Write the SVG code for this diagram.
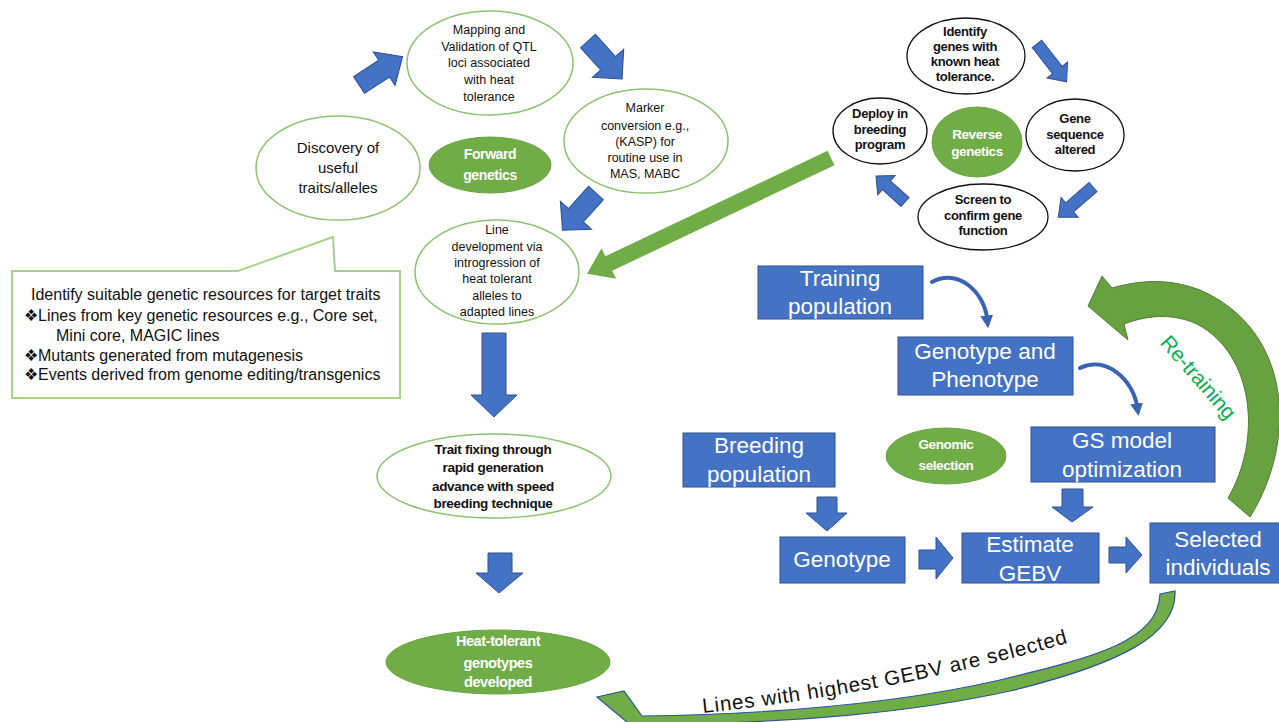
<svg xmlns="http://www.w3.org/2000/svg" width="1279" height="722" viewBox="0 0 1279 722">
<defs>
<style>
.fe{fill:#fff;stroke:#8dc26f;stroke-width:1.5}
.re{fill:#fff;stroke:#111;stroke-width:1.3}
.gf{fill:#70ad47;stroke:#6aa443;stroke-width:1}
.box{fill:#4472c4;stroke:#2f528f;stroke-width:1}
.ba{fill:#4472c4;stroke:#2f528f;stroke-width:1}
.t{font-family:"Liberation Sans",Arial,sans-serif;fill:#111;text-anchor:middle}
.s{font-size:12.5px}
.b{font-weight:bold;font-size:13px;letter-spacing:-0.3px}
.w{fill:#fff;font-weight:bold;letter-spacing:-0.4px}
.bt{font-family:"Liberation Sans",Arial,sans-serif;fill:#fff;font-size:22.5px;text-anchor:middle}
.ct{font-family:"Liberation Sans",Arial,sans-serif;fill:#111;font-size:16px}
.ca{fill:none;stroke:#3a64b0;stroke-width:4;stroke-linecap:round}
</style>
<marker id="hd" viewBox="0 0 10 10" refX="2" refY="5" markerWidth="3.2" markerHeight="3.2" orient="auto" markerUnits="strokeWidth">
<path d="M0,0 L10,5 L0,10 Z" fill="#3a64b0"/>
</marker>
<path id="tp" d="M 703,713 Q 900,692 1078,640"/>
</defs>

<g id="connectors">
<polygon class="ba" transform="translate(359,85) rotate(-33)" points="0,-10 30,-10 30,-20 52,0 30,20 30,10 0,10"/>
<polygon class="ba" transform="translate(588,41) rotate(48)" points="0,-10 30,-10 30,-21 51,0 30,21 30,10 0,10"/>
<polygon class="ba" transform="translate(596,193) rotate(132)" points="0,-10 30,-10 30,-21 50,0 30,21 30,10 0,10"/>
<polygon class="ba" points="482,333 506,333 506,395 517,395 494,417 471,395 482,395"/>
<polygon class="ba" points="488,553 512,553 512,573 523,573 499,593 476,573 488,573"/>
<polygon class="ba" transform="translate(1037,44) rotate(52)" points="0,-6 33,-6 33,-13 48,0 33,13 33,6 0,6"/>
<polygon class="ba" transform="translate(1093,187) rotate(139)" points="0,-6 31,-6 31,-13 46,0 31,13 31,6 0,6"/>
<polygon class="ba" transform="translate(905,202) rotate(222)" points="0,-6 25,-6 25,-13 39,0 25,13 25,6 0,6"/>
<polygon fill="#70ad47" transform="translate(831,158) rotate(154.6)" points="0,-8 246,-8 246,-17 270,0 246,17 246,8 0,8"/>
<polygon class="ba" points="817,497 837,497 837,513 847,513 827,531 806,513 817,513"/>
<polygon class="ba" points="919,550 936,550 936,537 953,558 936,579 936,569 919,569"/>
<polygon class="ba" points="1062,489 1083,489 1083,507 1093,507 1072,522 1052,507 1062,507"/>
<polygon class="ba" points="1109,547 1126,547 1126,537 1142,555 1126,573 1126,563 1109,563"/>
<path class="ca" d="M 932,282 C 958,268 984,292 987,318" marker-end="url(#hd)"/>
<path class="ca" d="M 1080,368 C 1106,355 1133,380 1137,406" marker-end="url(#hd)"/>
<path fill="#67a140" stroke="#507e32" stroke-width="1" d="M 1250,517 C 1298,440 1292,330 1200,290 C 1168,278 1140,280 1112,288 L 1102,276 L 1088,306 L 1128,340 L 1124,324 C 1150,314 1175,314 1197,324 C 1255,355 1262,440 1228,498 Z"/>
<text class="t" style="fill:#00b050;font-size:21px" transform="translate(1193,382) rotate(49)">Re-training</text>
<path fill="#70ad47" stroke="#2f5597" stroke-width="1.2" d="M 1160,594 L 1175,591 C 1177,635 1120,664 1010,691 C 910,713 800,722 655,725 L 640,733 L 597,697 L 624,691 L 642,716 C 780,714 900,703 1000,680 C 1100,656 1158,640 1160,594 Z"/>
<text class="t" style="font-size:20.5px;text-anchor:start"><textPath href="#tp" textLength="372">Lines with highest GEBV are selected</textPath></text>
</g>

<g id="callout">
<path fill="#fff" stroke="#a9d18e" stroke-width="2" d="M 12,271 L 238,271 L 333,237 L 335,271 L 400,271 L 400,398 L 12,398 Z"/>
<text class="ct" x="31" y="300">Identify suitable genetic resources for target traits</text>
<text class="ct" x="24" y="321">❖Lines from key genetic resources e.g., Core set,</text>
<text class="ct" x="56" y="341">Mini core, MAGIC lines</text>
<text class="ct" x="24" y="361">❖Mutants generated from mutagenesis</text>
<text class="ct" x="24" y="380">❖Events derived from genome editing/transgenics</text>
</g>

<g id="mapping">
<ellipse class="fe" cx="490" cy="63" rx="83" ry="52"/>
<text class="t s"><tspan x="489" y="34">Mapping and</tspan><tspan x="489" y="51">Validation of QTL</tspan><tspan x="489" y="67">loci associated</tspan><tspan x="489" y="84">with heat</tspan><tspan x="489" y="101">tolerance</tspan></text>
</g>
<g id="discovery">
<ellipse class="fe" cx="338" cy="168" rx="82" ry="52"/>
<text class="t" style="font-size:15px"><tspan x="338" y="153">Discovery of</tspan><tspan x="338" y="173">useful</tspan><tspan x="338" y="193">traits/alleles</tspan></text>
</g>
<g id="forward">
<ellipse class="gf" cx="490" cy="165" rx="61" ry="28"/>
<text class="t w" style="font-size:14px"><tspan x="490" y="159">Forward</tspan><tspan x="490" y="180">genetics</tspan></text>
</g>
<g id="marker">
<ellipse class="fe" cx="646" cy="141" rx="82" ry="52"/>
<text class="t s"><tspan x="645" y="112">Marker</tspan><tspan x="645" y="130">conversion e.g.,</tspan><tspan x="645" y="146">(KASP) for</tspan><tspan x="645" y="162">routine use in</tspan><tspan x="645" y="178">MAS, MABC</tspan></text>
</g>
<g id="linedev">
<ellipse class="fe" cx="497" cy="272" rx="82" ry="52"/>
<text class="t s"><tspan x="497" y="234">Line</tspan><tspan x="497" y="251">development via</tspan><tspan x="497" y="267">introgression of</tspan><tspan x="497" y="283">heat tolerant</tspan><tspan x="497" y="300">alleles to</tspan><tspan x="497" y="316">adapted lines</tspan></text>
</g>
<g id="traitfix">
<ellipse class="fe" cx="494" cy="476" rx="117" ry="42"/>
<text class="t b" style="font-size:13.5px"><tspan x="493" y="454">Trait fixing through</tspan><tspan x="493" y="472">rapid generation</tspan><tspan x="493" y="491">advance with speed</tspan><tspan x="493" y="508">breeding technique</tspan></text>
</g>
<g id="heattolerant">
<ellipse class="gf" cx="498" cy="662" rx="112" ry="32"/>
<text class="t w" style="font-size:14.5px"><tspan x="498" y="646">Heat-tolerant</tspan><tspan x="498" y="668">genotypes</tspan><tspan x="498" y="687">developed</tspan></text>
</g>

<g id="identify">
<ellipse class="re" cx="966" cy="56" rx="59" ry="38"/>
<text class="t b"><tspan x="965" y="36">Identify</tspan><tspan x="965" y="51">genes with</tspan><tspan x="965" y="66">known heat</tspan><tspan x="965" y="81">tolerance.</tspan></text>
</g>
<g id="deploy">
<ellipse class="re" cx="880" cy="131" rx="47" ry="33"/>
<text class="t b"><tspan x="880" y="118">Deploy in</tspan><tspan x="880" y="134">breeding</tspan><tspan x="880" y="149">program</tspan></text>
</g>
<g id="reverse">
<ellipse class="gf" cx="977" cy="142" rx="45" ry="35"/>
<text class="t w" style="font-size:13.5px"><tspan x="977" y="139">Reverse</tspan><tspan x="977" y="156">genetics</tspan></text>
</g>
<g id="genesequence">
<ellipse class="re" cx="1075" cy="135" rx="49" ry="36"/>
<text class="t b"><tspan x="1075" y="123">Gene</tspan><tspan x="1075" y="139">sequence</tspan><tspan x="1075" y="154">altered</tspan></text>
</g>
<g id="screen">
<ellipse class="re" cx="983" cy="217" rx="65" ry="33"/>
<text class="t b"><tspan x="983" y="204">Screen to</tspan><tspan x="983" y="220">confirm gene</tspan><tspan x="983" y="235">function</tspan></text>
</g>

<g id="training">
<rect class="box" x="758" y="266" width="165" height="53"/>
<text class="bt"><tspan x="840" y="286">Training</tspan><tspan x="840" y="314">population</tspan></text>
</g>
<g id="genopheno">
<rect class="box" x="898" y="337" width="175" height="58"/>
<text class="bt"><tspan x="985" y="359">Genotype and</tspan><tspan x="985" y="387">Phenotype</tspan></text>
</g>
<g id="gsmodel">
<rect class="box" x="1031" y="427" width="184" height="55"/>
<text class="bt"><tspan x="1122" y="448">GS model</tspan><tspan x="1122" y="477">optimization</tspan></text>
</g>
<g id="breeding">
<rect class="box" x="683" y="433" width="152" height="54"/>
<text class="bt"><tspan x="759" y="453">Breeding</tspan><tspan x="759" y="482">population</tspan></text>
</g>
<g id="genomic">
<ellipse class="gf" cx="946" cy="456" rx="60" ry="28"/>
<text class="t w" style="font-size:13.5px"><tspan x="946" y="449">Genomic</tspan><tspan x="946" y="470">selection</tspan></text>
</g>
<g id="genotype">
<rect class="box" x="780" y="537" width="125" height="46"/>
<text class="bt" x="842" y="567">Genotype</text>
</g>
<g id="estimate">
<rect class="box" x="962" y="533" width="137" height="50"/>
<text class="bt"><tspan x="1030" y="552">Estimate</tspan><tspan x="1030" y="581">GEBV</tspan></text>
</g>
<g id="selected">
<rect class="box" x="1150" y="523" width="140" height="60"/>
<text class="bt"><tspan x="1218" y="547">Selected</tspan><tspan x="1218" y="575">individuals</tspan></text>
</g>
</svg>
